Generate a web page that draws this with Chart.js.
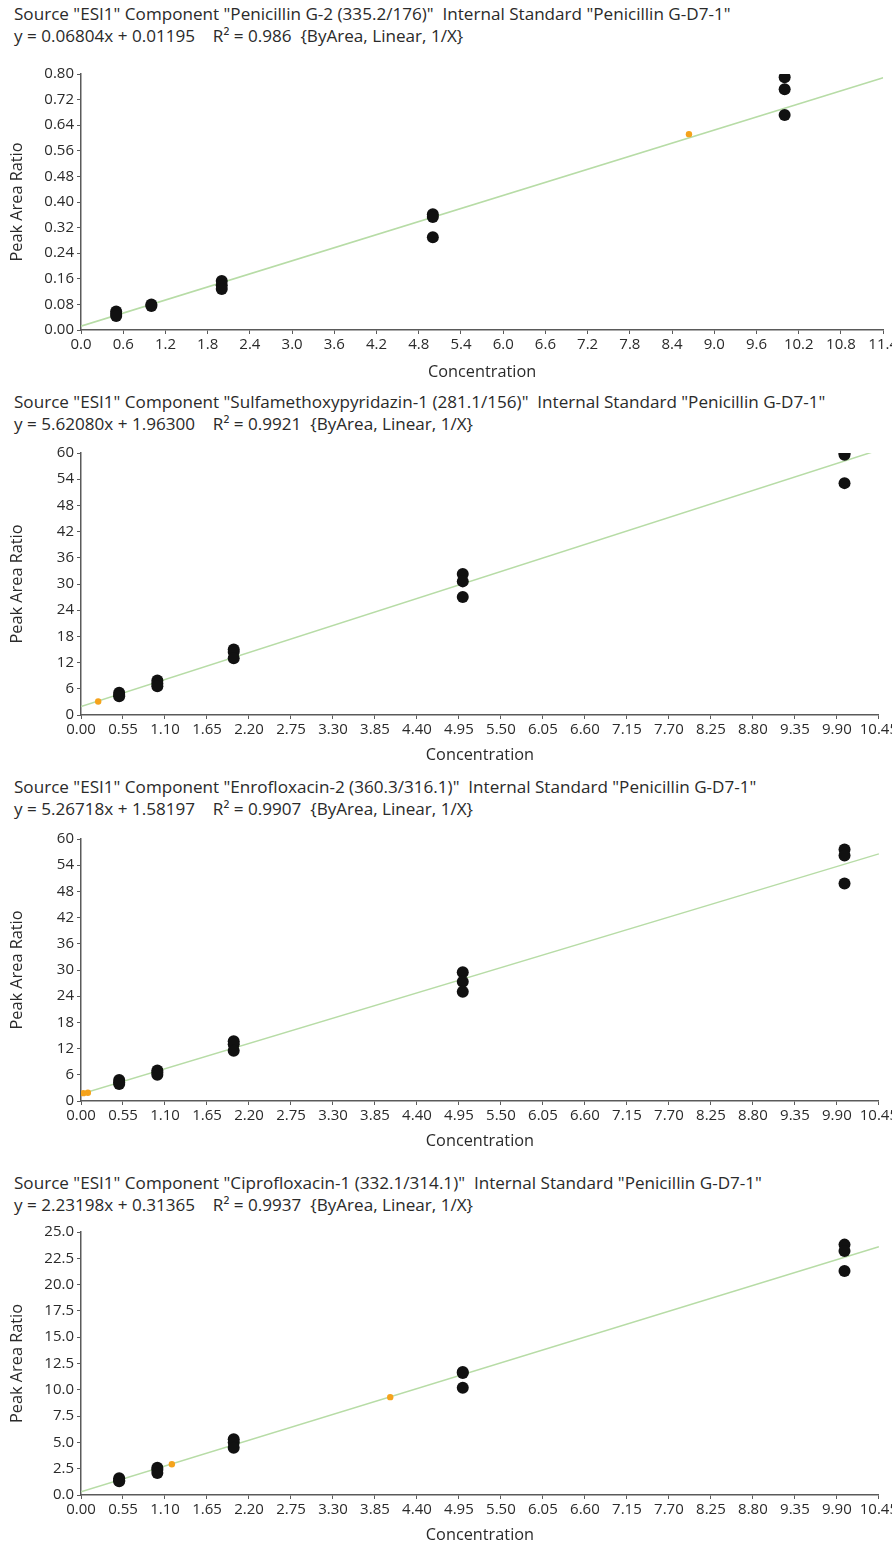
<!DOCTYPE html>
<html>
<head>
<meta charset="utf-8">
<script src="https://cdn.jsdelivr.net/npm/chart.js@4.4.1/dist/chart.umd.min.js"></script>
<style>
  html, body { margin: 0; padding: 0; background: #fff; overflow: hidden; }
  body { width: 892px; height: 1544px; position: relative; font-family: "Open Sans", "Noto Sans", sans-serif; }
  .ttl { position: absolute; left: 14px; font-size: 17.1px; line-height: 22px; color: #2a2a2a; white-space: pre; }
  canvas { position: absolute; left: 0; }
</style>
</head>
<body>
<div class="ttl" style="top:3px">Source "ESI1" Component "Penicillin G-2 (335.2/176)"  Internal Standard "Penicillin G-D7-1"
y = 0.06804x + 0.01195    R² = 0.986  {ByArea, Linear, 1/X}</div>
<div class="ttl" style="top:391px">Source "ESI1" Component "Sulfamethoxypyridazin-1 (281.1/156)"  Internal Standard "Penicillin G-D7-1"
y = 5.62080x + 1.96300    R² = 0.9921  {ByArea, Linear, 1/X}</div>
<div class="ttl" style="top:776px">Source "ESI1" Component "Enrofloxacin-2 (360.3/316.1)"  Internal Standard "Penicillin G-D7-1"
y = 5.26718x + 1.58197    R² = 0.9907  {ByArea, Linear, 1/X}</div>
<div class="ttl" style="top:1172px">Source "ESI1" Component "Ciprofloxacin-1 (332.1/314.1)"  Internal Standard "Penicillin G-D7-1"
y = 2.23198x + 0.31365    R² = 0.9937  {ByArea, Linear, 1/X}</div>

<canvas id="c1" width="900" height="322" style="top:60px"></canvas>
<canvas id="c2" width="900" height="326" style="top:439px"></canvas>
<canvas id="c3" width="900" height="326" style="top:825px"></canvas>
<canvas id="c4" width="900" height="327" style="top:1218px"></canvas>

<script>
// ---------- Chart 1: Penicillin G-2 ----------
const c1StdX = [0.5, 0.5, 0.5, 1.0, 1.0, 2.0, 2.0, 2.0, 5.0, 5.0, 5.0, 10.0, 10.0, 10.0];
const c1StdY = [0.058, 0.050, 0.044, 0.080, 0.075, 0.153, 0.140, 0.128, 0.362, 0.353, 0.290, 0.790, 0.752, 0.672];
const c1QcX = [8.64];
const c1QcY = [0.612];
const c1FitX = [0.0, 11.4];
const c1FitY = [0.012, 0.788];
const c1XTicks = [0, 0.6, 1.2, 1.8, 2.4, 3.0, 3.6, 4.2, 4.8, 5.4, 6.0, 6.6, 7.2, 7.8, 8.4, 9.0, 9.6, 10.2, 10.8, 11.4];
const c1XLabels = ['0.0','0.6','1.2','1.8','2.4','3.0','3.6','4.2','4.8','5.4','6.0','6.6','7.2','7.8','8.4','9.0','9.6','10.2','10.8','11.4'];
const c1YTicks = [0, 0.08, 0.16, 0.24, 0.32, 0.40, 0.48, 0.56, 0.64, 0.72, 0.80];
const c1YLabels = ['0.00','0.08','0.16','0.24','0.32','0.40','0.48','0.56','0.64','0.72','0.80'];

// ---------- Chart 2: Sulfamethoxypyridazin-1 ----------
const c2StdX = [0.5, 0.5, 0.5, 1.0, 1.0, 1.0, 2.0, 2.0, 2.0, 5.0, 5.0, 5.0, 10.0, 10.0, 10.0];
const c2StdY = [5.1, 4.6, 4.3, 7.9, 7.2, 6.6, 15.0, 14.4, 13.0, 32.3, 30.6, 27.0, 60.0, 59.6, 53.1];
const c2QcX = [0.225];
const c2QcY = [3.1];
const c2FitX = [0.0, 10.45];
const c2FitY = [1.96, 60.7];
const c2XTicks = [0, 0.55, 1.10, 1.65, 2.20, 2.75, 3.30, 3.85, 4.40, 4.95, 5.50, 6.05, 6.60, 7.15, 7.70, 8.25, 8.80, 9.35, 9.90, 10.45];
const c2XLabels = ['0.00','0.55','1.10','1.65','2.20','2.75','3.30','3.85','4.40','4.95','5.50','6.05','6.60','7.15','7.70','8.25','8.80','9.35','9.90','10.45'];
const c2YTicks = [0, 6, 12, 18, 24, 30, 36, 42, 48, 54, 60];
const c2YLabels = ['0','6','12','18','24','30','36','42','48','54','60'];

// ---------- Chart 3: Enrofloxacin-2 ----------
const c3StdX = [0.5, 0.5, 0.5, 1.0, 1.0, 1.0, 2.0, 2.0, 2.0, 5.0, 5.0, 5.0, 10.0, 10.0, 10.0];
const c3StdY = [4.8, 4.3, 3.9, 7.0, 6.5, 6.0, 13.7, 13.0, 11.5, 29.5, 27.3, 25.0, 57.6, 56.2, 49.8];
const c3QcX = [0.03, 0.09];
const c3QcY = [1.8, 1.9];
const c3FitX = [0.0, 10.45];
const c3FitY = [1.58, 56.6];
const c3XTicks = c2XTicks;
const c3XLabels = c2XLabels;
const c3YTicks = c2YTicks;
const c3YLabels = c2YLabels;

// ---------- Chart 4: Ciprofloxacin-1 ----------
const c4StdX = [0.5, 0.5, 0.5, 1.0, 1.0, 1.0, 2.0, 2.0, 2.0, 5.0, 5.0, 5.0, 10.0, 10.0, 10.0];
const c4StdY = [1.6, 1.4, 1.3, 2.6, 2.4, 2.1, 5.3, 5.0, 4.5, 11.7, 11.6, 10.2, 23.8, 23.2, 21.3];
const c4QcX = [1.19, 4.05];
const c4QcY = [2.93, 9.3];
const c4FitX = [0.0, 10.45];
const c4FitY = [0.31, 23.6];
const c4XTicks = c2XTicks;
const c4XLabels = c2XLabels;
const c4YTicks = [0, 2.5, 5.0, 7.5, 10.0, 12.5, 15.0, 17.5, 20.0, 22.5, 25.0];
const c4YLabels = ['0.0','2.5','5.0','7.5','10.0','12.5','15.0','17.5','20.0','22.5','25.0'];

const FONT = '"Open Sans", "Noto Sans", sans-serif';
const TXT = '#2a2a2a';
const AXIS = '#5a5a5a';

function pts(xs, ys) { return xs.map((x, i) => ({x: x, y: ys[i]})); }

function build(id, stdX, stdY, qcX, qcY, fitX, fitY, xT, xL, yT, yL, xH) {
  new Chart(document.getElementById(id), {
    type: 'scatter',
    data: {
      datasets: [
        { type: 'line', data: pts(fitX, fitY), borderColor: '#b7dca6', borderWidth: 1.5,
          pointRadius: 0, fill: false, order: 3 },
        { data: pts(qcX, qcY), backgroundColor: '#f5a31c', borderWidth: 0, pointRadius: 3.2, order: 2 },
        { data: pts(stdX, stdY), backgroundColor: '#111111', borderWidth: 0, pointRadius: 6, order: 1 }
      ]
    },
    options: {
      responsive: false,
      animation: false,
      devicePixelRatio: 1,
      layout: { padding: { top: 14, right: 16, left: 0, bottom: 0 } },
      plugins: { legend: { display: false }, tooltip: { enabled: false } },
      scales: {
        x: {
          type: 'linear', min: xT[0], max: xT[xT.length - 1],
          afterBuildTicks: s => { s.ticks = xT.map(v => ({value: v})); },
          afterFit: s => { s.height = xH; },
          ticks: { callback: (v, i) => xL[i], autoSkip: false, maxRotation: 0, color: TXT,
                   font: { family: FONT, size: 15 }, padding: 2 },
          grid: { display: true, drawOnChartArea: false, drawTicks: true, tickLength: 4, color: AXIS, lineWidth: 1 },
          border: { display: true, color: AXIS, width: 1.5 },
          title: { display: true, text: 'Concentration', color: TXT, font: { family: FONT, size: 16.3 },
                   padding: { top: 0, bottom: 0 } }
        },
        y: {
          type: 'linear', min: yT[0], max: yT[yT.length - 1],
          afterBuildTicks: s => { s.ticks = yT.map(v => ({value: v})); },
          afterFit: s => { s.width = 81; },
          ticks: { callback: (v, i) => yL[i], autoSkip: false, color: TXT,
                   font: { family: FONT, size: 15 }, padding: 3 },
          grid: { display: true, drawOnChartArea: false, drawTicks: true, tickLength: 4, color: AXIS, lineWidth: 1 },
          border: { display: true, color: AXIS, width: 1.5 },
          title: { display: true, text: 'Peak Area Ratio', color: TXT, font: { family: FONT, size: 16.3 },
                   padding: { top: 8, bottom: 0 } }
        }
      }
    }
  });
}

build('c1', c1StdX, c1StdY, c1QcX, c1QcY, c1FitX, c1FitY, c1XTicks, c1XLabels, c1YTicks, c1YLabels, 52);
build('c2', c2StdX, c2StdY, c2QcX, c2QcY, c2FitX, c2FitY, c2XTicks, c2XLabels, c2YTicks, c2YLabels, 50);
build('c3', c3StdX, c3StdY, c3QcX, c3QcY, c3FitX, c3FitY, c3XTicks, c3XLabels, c3YTicks, c3YLabels, 50);
build('c4', c4StdX, c4StdY, c4QcX, c4QcY, c4FitX, c4FitY, c4XTicks, c4XLabels, c4YTicks, c4YLabels, 50);
</script>
</body>
</html>
